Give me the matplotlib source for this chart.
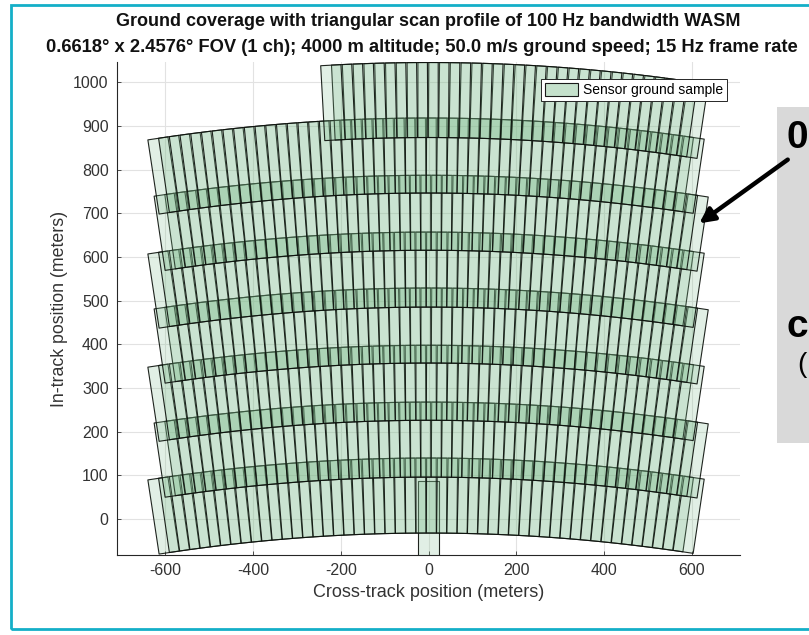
import numpy as np
import matplotlib.pyplot as plt
from matplotlib.collections import PolyCollection
from matplotlib.patches import Patch, Rectangle, FancyArrowPatch

plt.rcParams['font.family'] = ['Liberation Sans', 'DejaVu Sans']
plt.rcParams['axes.unicode_minus'] = False

# sensor and flight parameters
altitude = 4000.0        # m
fov_cross = 0.6618       # deg
fov_in = 2.4576          # deg
ground_speed = 50.0      # m/s
frame_rate = 15          # Hz

# scan sweeps: in-track centre at nadir, first and last cross-track frame centre
sweep_y = [54, 182, 312, 443, 571, 701, 832, 959]
sweep_x0 = [-604, 602, -604, 602, -604, 602, -604, 602]
sweep_x1 = [593, -590, 593, -590, 593, -590, 593, -218]
scan_step = 24.0         # cross-track move between frames (m)
first_frame = (0.0, 2.5)  # frame taken before the scan starts

# footprint size on the ground at nadir
fp_w = 2 * altitude * np.tan(np.radians(fov_cross / 2))
fp_h = 2 * altitude * np.tan(np.radians(fov_in / 2))


def footprint(xc, yc):
    # footprint rotates and sags along the scan arc away from nadir
    a = -np.arctan(xc / altitude)
    yc = yc - xc ** 2 / (2 * altitude)
    local = np.array([[-fp_w / 2, -fp_h / 2], [fp_w / 2, -fp_h / 2],
                      [fp_w / 2, fp_h / 2], [-fp_w / 2, fp_h / 2]])
    rot = np.array([[np.cos(a), -np.sin(a)], [np.sin(a), np.cos(a)]])
    return local @ rot.T + [xc, yc]


polys = [footprint(*first_frame)]
for y0, xa, xb in zip(sweep_y, sweep_x0, sweep_x1):
    n = int(round(abs(xb - xa) / scan_step)) + 1
    for xc in np.linspace(xa, xb, n):
        polys.append(footprint(xc, y0))

W, H = 809, 635
fig = plt.figure(figsize=(W / 100, H / 100), dpi=100)
ax = fig.add_axes([117 / W, 1 - 555 / H, 623 / W, 493 / H])

face = (0.5, 0.74, 0.56, 0.23)
pc = PolyCollection(polys, facecolors=[face], edgecolors=[(0.05, 0.07, 0.05, 0.92)],
                    linewidths=0.8, zorder=2)
ax.add_collection(pc)

ax.set_xlim(-710, 710)
ax.set_ylim(-82, 1046)
ax.set_xticks(np.arange(-600, 601, 200))
ax.set_yticks(np.arange(0, 1001, 100))
ax.grid(True, color='#e2e2e2', lw=0.8)
ax.set_axisbelow(True)
for s in ['top', 'right']:
    ax.spines[s].set_visible(False)
for s in ['left', 'bottom']:
    ax.spines[s].set_color('#262626')
    ax.spines[s].set_linewidth(0.8)
ax.tick_params(direction='in', length=3, width=0.6, colors='#333333',
               labelsize=11.5, pad=6)
ax.set_xlabel('Cross-track position (meters)', fontsize=13, color='#333333')
ax.set_ylabel('In-track position (meters)', fontsize=12.8, color='#333333')

leg = ax.legend(handles=[Patch(facecolor=(0.5, 0.74, 0.56, 0.45), edgecolor='#1a1a1a',
                               lw=0.8, label='Sensor ground sample')],
                loc='upper right', bbox_to_anchor=(0.979, 0.9655), borderaxespad=0,
                fontsize=10, fancybox=False, framealpha=1, edgecolor='#262626',
                handlelength=2.4, handleheight=1.0, borderpad=0.3, handletextpad=0.3)
leg.get_frame().set_linewidth(0.7)

fig.text(428.5 / W, 1 - 22 / H,
         'Ground coverage with triangular scan profile of 100 Hz bandwidth WASM',
         ha='center', va='center', fontsize=13, fontweight='bold', color='#111111')
fig.text(422 / W, 1 - 47 / H,
         '0.6618° x 2.4576° FOV (1 ch); 4000 m altitude; 50.0 m/s ground speed; '
         '15 Hz frame rate',
         ha='center', va='center', fontsize=13.2, fontweight='bold', color='#111111')

# frame around the slide and the side call-out box
fig.add_artist(Rectangle((11 / W, 1 - 629 / H), 810 / W, 624 / H, fill=False,
                         edgecolor='#14afc8', lw=2, transform=fig.transFigure))
fig.add_artist(Rectangle((777 / W, 1 - 443 / H), 40 / W, 336 / H, facecolor='#d9d9d9',
                         edgecolor='none', transform=fig.transFigure))
fig.text(786 / W, 1 - 138 / H, '0', fontsize=28, fontweight='bold', va='center')
fig.text(786 / W, 1 - 327 / H, 'c', fontsize=28, fontweight='bold', va='center')
fig.text(797 / W, 1 - 365 / H, '(', fontsize=20, va='center')
fig.add_artist(FancyArrowPatch((790 / W, 1 - 158 / H), (697 / W, 1 - 225 / H),
                               transform=fig.transFigure, arrowstyle='-|>',
                               mutation_scale=22, lw=3.2, color='black'))

fig.savefig('out.png', dpi=100)
